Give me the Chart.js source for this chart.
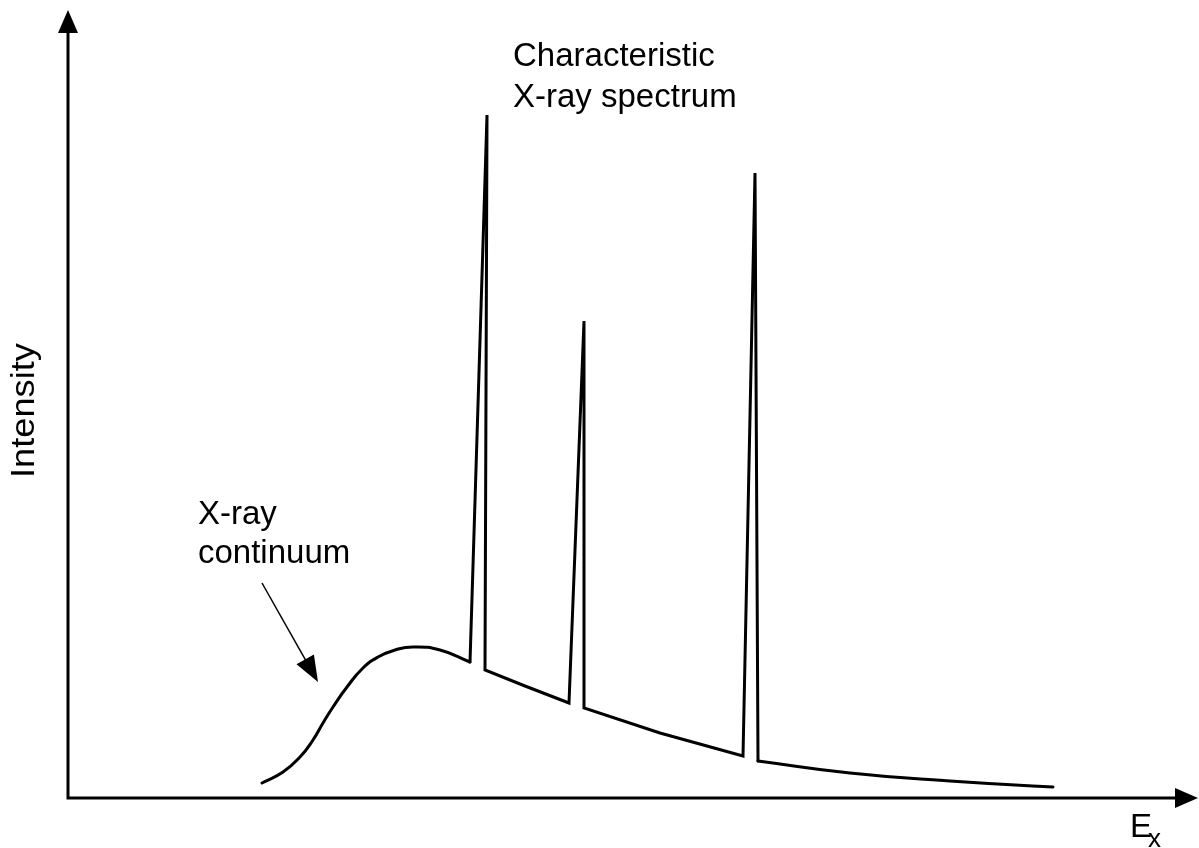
<!DOCTYPE html>
<html>
<head>
<meta charset="utf-8">
<script src="https://cdn.jsdelivr.net/npm/chart.js@4/dist/chart.umd.min.js"></script>
<style>
  body { margin: 0; background: #fff; }
  #wrap { width: 1199px; height: 848px; }
</style>
</head>
<body>
<div id="wrap"><canvas id="spectrum" width="1199" height="848"></canvas></div>
<script>
// smooth bremsstrahlung hump (energy, intensity)
const continuumE = [19.4, 21.5, 23.2, 24.5, 25.5, 26.5, 27.9, 29.5, 31.0, 32.7, 34.5, 37.2, 40.2];
const continuumI = [1.5, 2.6, 4.1, 5.8, 7.5, 9.1, 11.1, 13.0, 14.1, 14.8, 15.1, 14.8, 13.6];

// the three characteristic lines sitting on the falling continuum
const lineE = [40.2, 41.9, 41.7, 45.7, 50.1, 51.6, 51.6, 59.2, 67.5, 68.7, 69.0];
const lineI = [13.6, 68.3, 12.8, 11.2, 9.5, 47.7, 9.0, 6.5, 4.2, 62.5, 3.7];

// high-energy tail of the continuum
const tailE = [69.0, 78.2, 88.2, 98.5];
const tailI = [3.7, 2.5, 1.7, 1.1];

const toPoints = (xs, ys) => xs.map((x, i) => ({ x: x, y: ys[i] }));

const FONT = '33px "Liberation Sans", Arial, sans-serif';

function arrowHead(ctx, tipX, tipY, angle, len, half) {
  ctx.save();
  ctx.translate(tipX, tipY);
  ctx.rotate(angle);
  ctx.beginPath();
  ctx.moveTo(0, 0);
  ctx.lineTo(-len, -half);
  ctx.lineTo(-len, half);
  ctx.closePath();
  ctx.fill();
  ctx.restore();
}

// axes with arrows, labels and annotations
const decorations = {
  id: 'decorations',
  afterDraw(chart) {
    const ctx = chart.ctx;
    const { x, y } = chart.scales;
    const x0 = x.getPixelForValue(0);
    const y0 = y.getPixelForValue(0);
    const xEnd = chart.chartArea.right;
    const yEnd = chart.chartArea.top;

    ctx.save();
    ctx.strokeStyle = '#000';
    ctx.fillStyle = '#000';
    ctx.lineWidth = 3;

    ctx.beginPath();
    ctx.moveTo(x0, y0);
    ctx.lineTo(x0, yEnd + 15);
    ctx.moveTo(x0 - 1.5, y0);
    ctx.lineTo(xEnd - 15, y0);
    ctx.stroke();
    arrowHead(ctx, x0, yEnd, -Math.PI / 2, 23, 10);
    arrowHead(ctx, xEnd, y0, 0, 23, 10);

    ctx.font = FONT;
    ctx.textBaseline = 'alphabetic';
    ctx.textAlign = 'left';
    ctx.fillText('Characteristic', 513, 66);
    ctx.fillText('X-ray spectrum', 513, 107);
    ctx.fillText('X-ray', 198, 524);
    ctx.fillText('continuum', 198, 563);

    // E with subscript x
    ctx.fillText('E', 1130, 837);
    ctx.font = '26px "Liberation Sans", Arial, sans-serif';
    ctx.fillText('x', 1148, 847);

    // rotated y-axis title
    ctx.font = FONT;
    ctx.save();
    ctx.translate(34, 478);
    ctx.rotate(-Math.PI / 2);
    const w = ctx.measureText('Intensity').width;
    ctx.scale(135 / w, 1);
    ctx.fillText('Intensity', 0, 0);
    ctx.restore();

    // pointer to the continuum
    const ax = 262, ay = 583, bx = 318, by = 682;
    const ang = Math.atan2(by - ay, bx - ax);
    ctx.lineWidth = 1.5;
    ctx.beginPath();
    ctx.moveTo(ax, ay);
    ctx.lineTo(bx - 20 * Math.cos(ang), by - 20 * Math.sin(ang));
    ctx.stroke();
    arrowHead(ctx, bx, by, ang, 26, 10);

    ctx.restore();
  }
};

const curve = (label, xs, ys, smooth) => ({
  label: label,
  data: toPoints(xs, ys),
  showLine: true,
  borderColor: '#000',
  borderWidth: 3,
  pointRadius: 0,
  tension: smooth ? 0.5 : 0,
  borderJoinStyle: 'miter',
  borderCapStyle: 'round'
});

new Chart(document.getElementById('spectrum'), {
  type: 'scatter',
  data: {
    datasets: [
      curve('X-ray continuum', continuumE, continuumI, true),
      curve('Characteristic X-ray spectrum', lineE, lineI, false),
      curve('Continuum tail', tailE, tailI, true)
    ]
  },
  options: {
    responsive: false,
    animation: false,
    events: [],
    layout: { padding: { left: 68, right: 1, top: 10, bottom: 50 } },
    plugins: {
      legend: { display: false },
      tooltip: { enabled: false }
    },
    scales: {
      x: { type: 'linear', min: 0, max: 113, display: false },
      y: { type: 'linear', min: 0, max: 78.8, display: false }
    }
  },
  plugins: [decorations]
});
</script>
</body>
</html>
